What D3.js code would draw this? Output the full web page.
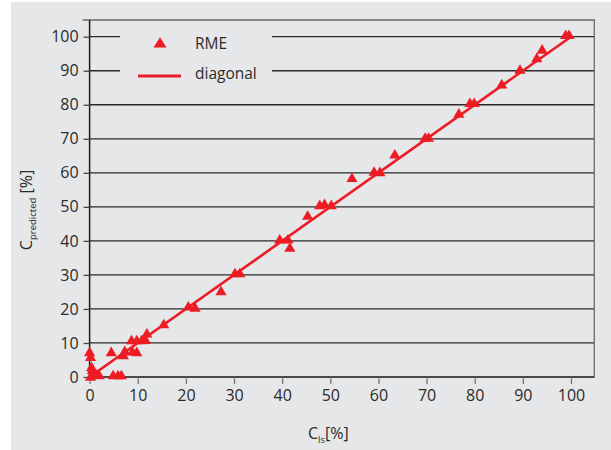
<!DOCTYPE html>
<html>
<head>
<meta charset="utf-8">
<script src="https://cdn.jsdelivr.net/npm/d3@7"></script>
<style>
  html, body { margin: 0; padding: 0; background: #ffffff; }
  svg { display: block; }
  text { font-family: "Open Sans", "Noto Sans", sans-serif; fill: #2b2b2b; }
</style>
</head>
<body>
<svg id="chart" width="611" height="450"></svg>
<script>
// Reference concentration C_ls [%] and the RME-predicted concentration [%]
const measuredLs = [
  0.0, 0.2, 0.4, 0.6, 1.0, 1.4, 2.0, 0.2,
  4.5, 4.9, 5.9, 6.6, 7.0, 7.3,
  8.7, 8.9, 9.8, 9.8, 10.8, 11.9, 11.6,
  15.4, 20.5, 21.9, 27.3, 30.2, 31.2,
  39.5, 41.2, 41.6, 45.3, 47.8, 48.8, 50.2,
  54.5, 59.1, 60.3, 63.4, 69.7, 70.4,
  76.7, 79.0, 79.9, 85.6, 89.4, 92.9, 94.0, 98.9, 99.6
];
const predictedRme = [
  7.4, 6.0, 3.0, 2.2, 1.2, 0.8, 0.6, 0.2,
  7.4, 0.6, 0.6, 0.6, 6.5, 7.7,
  10.9, 7.6, 10.9, 7.4, 10.9, 12.9, 11.0,
  15.6, 20.8, 20.5, 25.3, 30.6, 30.6,
  40.5, 40.5, 38.1, 47.5, 50.6, 50.9, 50.6,
  58.6, 60.4, 60.3, 65.5, 70.4, 70.4,
  77.5, 80.6, 80.6, 86.1, 90.4, 93.8, 96.3, 100.6, 100.6
];
const diagonal = [[0, 0], [100, 100]];
const tickValues = [0, 10, 20, 30, 40, 50, 60, 70, 80, 90, 100];
const legendItems = ["RME", "diagonal"];

const red = "#ed1c24";
const svg = d3.select("#chart");

// panel background
svg.append("rect")
  .attr("x", 11).attr("y", 2).attr("width", 600).attr("height", 448)
  .attr("fill", "#e6e7e8");

const x = d3.scaleLinear().domain([0, 100]).range([89.6, 571]);
const y = d3.scaleLinear().domain([0, 100]).range([377, 36.7]);
const frameTop = 20, frameRight = 594.3;

// horizontal grid lines
const grid = svg.append("g");
grid.selectAll("line").data(tickValues).join("line")
  .attr("x1", x(0)).attr("x2", frameRight)
  .attr("y1", d => y(d)).attr("y2", d => y(d))
  .attr("stroke", "#2a2a2a").attr("stroke-width", 1.3);

// frame (top and right)
svg.append("path")
  .attr("d", `M${x(0) - 7},${frameTop}H${frameRight}V${y(0)}`)
  .attr("fill", "none").attr("stroke", "#6a6a6a").attr("stroke-width", 1.3);

// y axis
const yAxis = svg.append("g")
  .attr("transform", `translate(${x(0)},0)`)
  .call(d3.axisLeft(y).tickValues(tickValues).tickSize(6).tickPadding(5));
yAxis.select(".domain").attr("d", `M0,${frameTop}V${y(0) + 1}`)
  .attr("stroke", "#1a1a1a").attr("stroke-width", 1.5);
yAxis.selectAll(".tick line").attr("stroke", "#444").attr("stroke-width", 1.3);
yAxis.selectAll(".tick text").style("font-size", "16px")
  .style("font-family", "'Open Sans', sans-serif").attr("fill", "#2b2b2b");

// x axis
const xAxis = svg.append("g")
  .attr("transform", `translate(0,${y(0)})`)
  .call(d3.axisBottom(x).tickValues(tickValues).tickSize(7).tickPadding(6));
xAxis.select(".domain").attr("d", `M${x(0)},0H${frameRight}`)
  .attr("stroke", "#444").attr("stroke-width", 1.4);
xAxis.selectAll(".tick line").attr("stroke", "#777").attr("stroke-width", 1.3);
xAxis.selectAll(".tick text").style("font-size", "16px")
  .style("font-family", "'Open Sans', sans-serif").attr("fill", "#2b2b2b");

// legend area sits on top of the upper grid lines
svg.append("rect")
  .attr("x", 120).attr("y", 26).attr("width", 152).attr("height", 62)
  .attr("fill", "#e6e7e8");

// diagonal line
svg.append("path")
  .datum(diagonal)
  .attr("d", d3.line().x(d => x(d[0])).y(d => y(d[1])))
  .attr("stroke", red).attr("stroke-width", 2.6).attr("fill", "none");

// triangle marker
const tri = "M0,-5.2L5.6,4.4L-5.6,4.4Z";
svg.append("g").selectAll("path")
  .data(measuredLs.map((v, i) => [v, predictedRme[i]]))
  .join("path")
  .attr("d", tri)
  .attr("transform", d => `translate(${x(d[0])},${y(d[1])})`)
  .attr("fill", red);

// legend
const lg = svg.append("g");
lg.append("path").attr("d", "M0,-5.8L6.5,4.6L-6.5,4.6Z")
  .attr("transform", "translate(160,43)").attr("fill", red);
lg.append("line").attr("x1", 138).attr("x2", 181).attr("y1", 76).attr("y2", 76)
  .attr("stroke", red).attr("stroke-width", 2.8);
lg.selectAll("text").data(legendItems).join("text")
  .attr("x", 195).attr("y", (d, i) => 49 + i * 30)
  .style("font-size", "15.5px")
  .text(d => d);

// axis titles
const xt = svg.append("text")
  .attr("x", 308).attr("y", 439)
  .style("font-size", "16px");
xt.append("tspan").text("C");
xt.append("tspan").attr("dy", 4).style("font-size", "9.5px").text("ls");
xt.append("tspan").attr("dy", -4).text("[%]");

const yt = svg.append("text")
  .attr("transform", "translate(32,210) rotate(-90)")
  .attr("text-anchor", "middle")
  .style("font-size", "16px");
yt.append("tspan").text("C");
yt.append("tspan").attr("dy", 4).style("font-size", "9.5px").text("predicted");
yt.append("tspan").attr("dy", -4).text(" [%]");
</script>
</body>
</html>
